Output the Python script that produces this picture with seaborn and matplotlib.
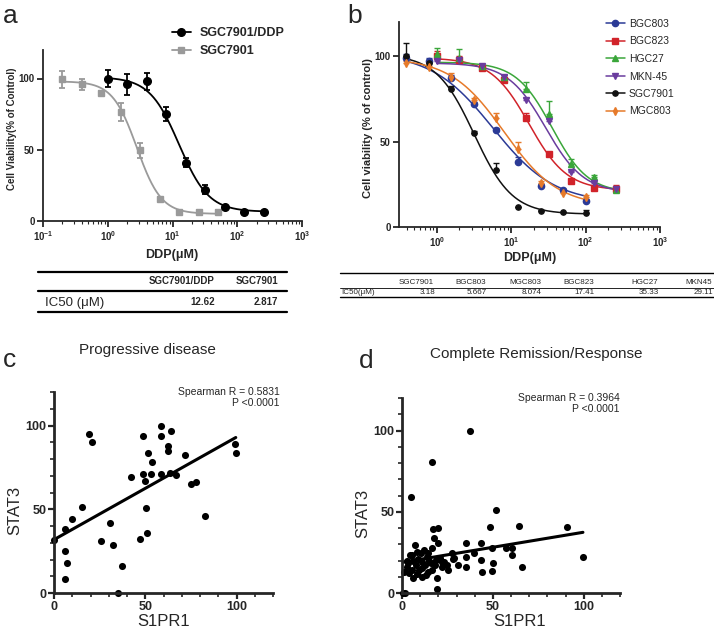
import numpy as np
import pandas as pd
import matplotlib
matplotlib.use("Agg")
import matplotlib.pyplot as plt
import seaborn as sns
from matplotlib.lines import Line2D
from matplotlib.ticker import LogLocator, FixedLocator, FixedFormatter, MultipleLocator, NullFormatter

# ---------------- panel a: SGC7901/DDP vs SGC7901 ----------------
a_dose_ddp = [1, 2, 4, 8, 16, 32, 64, 128, 256]
a_via_ddp = [100, 96, 98, 75, 41, 22, 9.5, 6, 6]
a_err_ddp = [6, 7.5, 6, 5, 3, 3, 1, 1, 1]
a_dose_wt = [0.2, 0.4, 0.8, 1.6, 3.2, 6.4, 12.8, 25.6, 51.2]
a_via_wt = [99.5, 96, 90, 76.5, 49.5, 15.5, 6.5, 6.5, 6.5]
a_err_wt = [6, 4, 1, 6, 5, 1, 1, 1, 1]
# four parameter logistic fits: top, bottom, IC50, hill
a_fit_ddp = [101, 6.5, 12.62, 1.9]
a_fit_wt = [98, 5, 2.817, 2.3]
a_labels = ["SGC7901/DDP", "SGC7901"]
a_ic50 = ["12.62", "2.817"]

# ---------------- panel b: six gastric cancer lines ----------------
b_dose_low = [0.39, 0.78, 1.56, 3.125, 6.25, 12.5, 25, 50, 100]
b_dose_high = [1, 2, 4, 8, 16, 32, 64, 128, 256]
b_names = ["BGC803", "BGC823", "HGC27", "MKN-45", "SGC7901", "MGC803"]
b_via = {
    "BGC803": [99, 97, 87, 72, 57, 38, 24, 21.5, 15.5],
    "BGC823": [100, 98, 93, 86, 64, 42.5, 27, 23, 22.5],
    "HGC27": [101, 99, 94, 88, 81, 66, 37, 29.5, 21.5],
    "MKN-45": [97, 97.5, 94, 88, 74.5, 62, 32, 26, 22],
    "SGC7901": [100, 96, 80.5, 55, 33.5, 11.5, 9.5, 8.5, 8],
    "MGC803": [96, 93.5, 88, 74.5, 64, 45.5, 26, 20, 17.5],
}
b_err = {
    "BGC803": [2, 2, 2, 1, 1, 3, 1, 1, 1],
    "BGC823": [3, 2, 2, 2, 3, 1, 1, 1, 2],
    "HGC27": [4, 5, 1, 1, 4, 8, 3, 1, 1],
    "MKN-45": [1, 1, 1, 1, 1, 2, 1, 1, 1],
    "SGC7901": [8, 1, 2, 1, 4, 0.5, 0.5, 0.5, 2],
    "MGC803": [1, 1, 2, 1, 3, 4, 1, 1, 1],
}
b_fit = {
    "BGC803": [102, 14, 5.667, 1.05],
    "BGC823": [99, 21.5, 17.41, 1.7],
    "HGC27": [96.5, 20, 35.33, 1.8],
    "MKN-45": [96, 20, 29.11, 1.7],
    "SGC7901": [101, 7.5, 3.18, 1.7],
    "MGC803": [99, 12, 8.074, 1.2],
}
b_high_group = ["BGC823", "HGC27", "MKN-45"]
b_table_cols = ["SGC7901", "BGC803", "MGC803", "BGC823", "HGC27", "MKN45"]
b_table_vals = ["3.18", "5.667", "8.074", "17.41", "35.33", "29.11"]

# ---------------- panel c: progressive disease ----------------
c_s1pr1 = [0, 5.9, 6.2, 7.1, 5.9, 9.9, 15.5, 19, 21, 26, 30.5, 32.5, 35, 37, 42,
           47, 49, 49, 50, 50.6, 51, 51.4, 53.7, 53.4, 58.5, 58.5, 58.5, 62.3,
           62.5, 64, 63.8, 66.7, 72, 75, 77.7, 83, 99.3, 99.6]
c_stat3 = [31.6, 25, 38, 18, 8.6, 44, 51.6, 95, 90, 31, 42, 28.6, 0, 16.4, 69,
           32, 94, 71, 67, 51, 36, 83.6, 78.4, 71, 100, 93.6, 71, 88,
           84.6, 97, 71.6, 70.6, 82.6, 65, 66.4, 46, 89, 83.6]

# ---------------- panel d: complete remission/response ----------------
d_s1pr1 = [37.6, 16.5, 5.1, 52, 48.4, 64.6, 91, 99.6, 66.3, 60.8, 57.5, 60.8,
           1.3, 3.5, 4.4, 5.7, 7.1, 5.3, 6.2, 7.5, 9, 9.3, 10.4, 11.2, 12.3,
           12.6, 13.5, 14.5, 15.9, 16.7, 16.3, 17.8, 17.2, 20, 19.6, 18.5, 19,
           19, 20.9, 21.8, 24.5, 25.5, 27.3, 28.7, 30.6, 35, 35, 35, 39.7, 43.4,
           43.4, 44.1, 49.6, 50.2, 49.6, 2.6, 3.8, 10.8, 14.5, 0.5, 1.5, 8, 23,
           27.9, 6, 11, 13, 15, 18, 22, 8, 3]
d_stat3 = [100, 80.6, 59, 50.8, 40.9, 41.4, 40.9, 22, 16.2, 23.5, 28, 28,
           13.2, 18.3, 23.5, 23.5, 29.6, 14.2, 9, 17.3, 20.8, 14.2, 24.5, 9.7, 26.5,
           17.3, 22.4, 13.2, 18.3, 27.6, 14.2, 33.8, 39.3, 39.9, 30.7, 20.4, 9,
           2.3, 21.4, 16.2, 17.3, 14.2, 24.5, 21.4, 17.3, 30.7, 16.2, 22.3, 24.5, 30.7,
           20.4, 13.2, 27.6, 18.7, 13.8, 16.2, 12.5, 15.2, 24.5, 0, 0, 12, 19,
           21.2, 20, 19, 11, 20, 17, 19, 25, 20]

b_colors = {"BGC803": "#2b3a96", "BGC823": "#d1232a", "HGC27": "#3aa63a",
            "MKN-45": "#6a3c9e", "SGC7901": "#111111", "MGC803": "#e67a2a"}
b_markers = {"BGC803": "o", "BGC823": "s", "HGC27": "^", "MKN-45": "v",
             "SGC7901": "o", "MGC803": "d"}


def logistic(x, top, bottom, ic50, hill):
    return bottom + (top - bottom) / (1 + 10 ** ((np.log10(x) - np.log10(ic50)) * hill))


sns.set_theme(style="ticks")
plt.rcParams["font.family"] = ["Liberation Sans", "DejaVu Sans"]
plt.rcParams["mathtext.fontset"] = "custom"
plt.rcParams["mathtext.rm"] = "Liberation Sans"
plt.rcParams["mathtext.bf"] = "Liberation Sans:bold"

W, H = 714, 633
fig = plt.figure(figsize=(W / 100, H / 100), dpi=100)


def px_axes(x0, y0, x1, y1):
    return fig.add_axes([x0 / W, 1 - y1 / H, (x1 - x0) / W, (y1 - y0) / H])


def fline(x0, x1, y, lw):
    fig.add_artist(Line2D([x0 / W, x1 / W], [1 - y / H, 1 - y / H], color="black",
                          lw=lw, transform=fig.transFigure))


def ftext(x, y, s, **kw):
    fig.text(x / W, 1 - y / H, s, **kw)


def style_log_axis(ax, lw):
    ax.set_xscale("log")
    ax.set_ylim(0, 120)
    ax.set_yticks([0, 50, 100])
    ax.xaxis.set_major_locator(FixedLocator([0.1, 1, 10, 100, 1000]))
    ax.xaxis.set_major_formatter(FixedFormatter([r"$\mathbf{10^{-1}}$", r"$\mathbf{10^{0}}$",
                                                 r"$\mathbf{10^{1}}$", r"$\mathbf{10^{2}}$",
                                                 r"$\mathbf{10^{3}}$"]))
    ax.xaxis.set_minor_locator(LogLocator(base=10, subs=np.arange(2, 10), numticks=20))
    ax.xaxis.set_minor_formatter(NullFormatter())
    for s in ["left", "bottom"]:
        ax.spines[s].set_linewidth(lw)
    sns.despine(ax=ax)
    ax.tick_params(which="major", length=4, width=lw, labelsize=7, pad=2)
    ax.tick_params(which="minor", length=2, width=0.8)
    for lab in ax.get_yticklabels():
        lab.set_fontweight("bold")


# ---------------- panel a ----------------
ax_a = px_axes(43, 50, 302, 221)
ax_a.set_xscale("log")
for dose, via, err, fit, col, mk, ms in [
        (a_dose_wt, a_via_wt, a_err_wt, a_fit_wt, "#9a9a9a", "s", 5),
        (a_dose_ddp, a_via_ddp, a_err_ddp, a_fit_ddp, "black", "o", 5.5)]:
    xs = np.logspace(np.log10(dose[0]), np.log10(dose[-1]), 300)
    curve = pd.DataFrame({"x": xs, "y": logistic(xs, *fit)})
    sns.lineplot(data=curve, x="x", y="y", color=col, lw=1.3, ax=ax_a)
    ax_a.errorbar(dose, via, yerr=err, fmt=mk, color=col, ms=ms, capsize=2.5,
                  elinewidth=1.3, capthick=1.3)
ax_a.set_xlim(0.1, 1000)
style_log_axis(ax_a, 1.3)
ax_a.set_xlabel("")
ax_a.set_ylabel("Cell Viability(% of Control)", fontsize=7, fontweight="bold")
ax_a.yaxis.set_label_coords(-0.10, 0.54)
handles_a = [Line2D([], [], color="black", marker="o", ms=5.5, lw=1.3),
             Line2D([], [], color="#9a9a9a", marker="s", ms=5, lw=1.3)]
ax_a.legend(handles_a, a_labels, loc="upper left", bbox_to_anchor=(172 / W, 1 - 27 / H),
            bbox_transform=fig.transFigure, frameon=False, borderpad=0, borderaxespad=0,
            handlelength=1.5, handletextpad=0.75, labelspacing=0.5,
            prop={"weight": "bold", "size": 9})
ftext(172, 255, "DDP(μM)", ha="center", va="center", fontsize=9, fontweight="bold")

# ---------------- panel b ----------------
ax_b = px_axes(399, 22, 660, 227)
ax_b.set_xscale("log")
handles_b = []
for name in b_names:
    dose = b_dose_high if name in b_high_group else b_dose_low
    col = b_colors[name]
    mk = b_markers[name]
    ms = 4.5 if name not in ("MGC803", "SGC7901") else 3.8
    xs = np.logspace(np.log10(dose[0]), np.log10(dose[-1]), 300)
    curve = pd.DataFrame({"x": xs, "y": logistic(xs, *b_fit[name])})
    sns.lineplot(data=curve, x="x", y="y", color=col, lw=1.1, ax=ax_b)
    err = b_err[name]
    ax_b.errorbar(dose, b_via[name], yerr=[np.zeros(len(err)), err], fmt=mk, color=col,
                  ms=ms, capsize=2.2, elinewidth=1.0, capthick=1.0)
    handles_b.append(Line2D([], [], color=col, marker=mk, ms=ms, lw=1.1))
ax_b.set_xlim(0.31, 1000)
style_log_axis(ax_b, 1.3)
ax_b.set_xlabel("")
ax_b.set_ylabel("Cell viability (% of control)", fontsize=8, fontweight="bold")
ax_b.yaxis.set_label_coords(-0.10, 0.485)
ax_b.legend(handles_b, b_names, loc="upper left", bbox_to_anchor=(606 / W, 1 - 19 / H),
            bbox_transform=fig.transFigure, frameon=False, borderpad=0, borderaxespad=0,
            handlelength=1.8, handletextpad=0.4, labelspacing=0.72, prop={"size": 7.5})
ftext(530, 258, "DDP(μM)", ha="center", va="center", fontsize=9, fontweight="bold")

# ---------------- table a ----------------
fline(38, 287, 272, 1.6)
fline(38, 287, 291, 1.6)
fline(38, 287, 312, 1.6)
ftext(215, 281, a_labels[0], ha="right", va="center", fontsize=7, fontweight="bold")
ftext(278, 281, a_labels[1], ha="right", va="center", fontsize=7, fontweight="bold")
ftext(45, 303, "IC50 (μM)", ha="left", va="center", fontsize=9.5)
ftext(215, 302, a_ic50[0], ha="right", va="center", fontsize=7, fontweight="bold")
ftext(278, 302, a_ic50[1], ha="right", va="center", fontsize=7, fontweight="bold")

# ---------------- table b ----------------
narrow = ["Liberation Sans Narrow", "Liberation Sans"]
fline(340, 714, 273.5, 1.0)
fline(340, 714, 287.5, 0.6)
fline(340, 714, 297, 1.0)
ftext(341, 292, "IC50(μM)", ha="left", va="center", fontsize=5.8, family=narrow)
for xr, col, val in zip([434, 486, 541, 594, 658, 712], b_table_cols, b_table_vals):
    ftext(xr, 282.5, col, ha="right", va="center", fontsize=5.8, family=narrow)
    ftext(xr + 1, 292, val, ha="right", va="center", fontsize=5.8, family=narrow)

# ---------------- panels c and d ----------------
for box, xs, ys, rtxt, title, tx, ty, sx, lab_y, xlab_x in [
        ((54, 392, 273, 593), c_s1pr1, c_stat3, "Spearman R = 0.5831", "Progressive disease",
         147, 350, 280, 0.41, 0.5),
        ((402, 398, 620, 593), d_s1pr1, d_stat3, "Spearman R = 0.3964", "Complete Remission/Response",
         536, 354, 620, 0.41, 0.54)]:
    ax = px_axes(*box)
    sns.regplot(x=xs, y=ys, ci=None, ax=ax, truncate=True,
                scatter_kws=dict(s=26, color="black", linewidths=0, clip_on=False, alpha=1),
                line_kws=dict(color="black", lw=2.2))
    ax.set_xlim(0, 120)
    ax.set_ylim(0, 120)
    ax.set_xticks([0, 50, 100])
    ax.set_yticks([0, 50, 100])
    ax.xaxis.set_minor_locator(MultipleLocator(10))
    ax.yaxis.set_minor_locator(MultipleLocator(10))
    sns.despine(ax=ax)
    for s in ["left", "bottom"]:
        ax.spines[s].set_linewidth(2)
    ax.tick_params(which="major", length=4, width=1.6, labelsize=9, pad=1.5)
    ax.tick_params(which="minor", length=3, width=1.2)
    for lab in ax.get_xticklabels() + ax.get_yticklabels():
        lab.set_fontweight("bold")
    ax.set_xlabel("S1PR1", fontsize=12)
    ax.set_ylabel("STAT3", fontsize=12)
    ax.xaxis.set_label_coords(xlab_x, -0.105 * 201 / (box[3] - box[1]))
    ax.yaxis.set_label_coords(-0.145, lab_y)
    ftext(tx, ty, title, ha="center", va="center", fontsize=11)
    ftext(sx, box[1], rtxt, ha="right", va="center", fontsize=7.5)
    ftext(sx, box[1] + 11.5, "P <0.0001", ha="right", va="center", fontsize=7.5)

# panel letters
for letter, x, y in [("a", 3, 23), ("b", 347, 23), ("c", 3, 367), ("d", 359, 368)]:
    ftext(x, y, letter, ha="left", va="baseline", fontsize=19)

fig.savefig("out.png", dpi=100)
